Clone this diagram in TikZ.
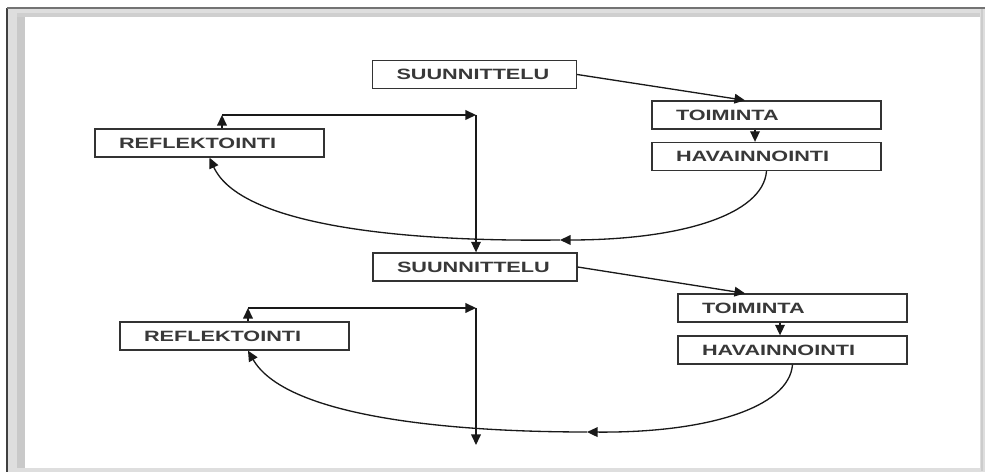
\documentclass[tikz,border=0pt]{standalone}
\usepackage{fontspec}
\usetikzlibrary{arrows.meta}
\newfontfamily\diagfont{Liberation Sans}[FakeStretch=1.45]
\newcommand\mylbl[2]{\makebox[#1][l]{#2}}
\begin{document}
\begin{tikzpicture}[x=0.02cm,y=-0.02cm,
  conn/.style={line width=0.75pt, draw=black!90},
  arr/.style={conn, -{Triangle[length=6pt,width=5.5pt]}},
  box/.style={draw=black!80, line width=0.75pt, fill=white, inner xsep=0.48cm, inner ysep=0pt,
    minimum height=0.56cm, font=\diagfont\bfseries\fontsize{8.5}{10}\selectfont, text=black!78}]
\useasboundingbox (0,0) rectangle (987,475);
% window frame
\fill[white] (0,0) rectangle (987,475);
\fill[black!13] (7,8) rectangle (985,472);
\fill[black!21] (17,13) rectangle (25,468);
\fill[black!19] (17,13) rectangle (980,17);
\fill[white] (25,17) rectangle (980,468);
\draw[black!20, line width=0.6pt] (982,9) -- (982,471);
\draw[black!75, line width=0.7pt] (7,472) -- (7,8);
\draw[black!55, line width=0.7pt] (7,8) -- (985,8);

% first cycle
\node[box] (S1) at (474.5,74.5) {\mylbl{3.12cm}{SUUNNITTELU}};
\node[box] (T1) at (766.5,115) {\mylbl{3.62cm}{TOIMINTA}};
\node[box] (H1) at (766.5,156.5) {\mylbl{3.62cm}{HAVAINNOINTI}};
\node[box] (R1) at (209.5,143) {\mylbl{3.62cm}{REFLEKTOINTI}};
% second cycle
\node[box] (S2) at (475,267) {\mylbl{3.12cm}{SUUNNITTELU}};
\node[box] (T2) at (792.5,308) {\mylbl{3.62cm}{TOIMINTA}};
\node[box] (H2) at (792.5,350) {\mylbl{3.62cm}{HAVAINNOINTI}};
\node[box] (R2) at (234.5,336) {\mylbl{3.62cm}{REFLEKTOINTI}};

\coordinate (c1) at (222,115);
\coordinate (d1) at (476,115);
\coordinate (m1) at (560,240);
\coordinate (c2) at (248,308);
\coordinate (d2) at (476,308);
\coordinate (e2) at (476,445);
\coordinate (m2) at (587,432);

% connectors, cycle 1
\draw[arr] (S1.east) -- ([xshift=-0.43cm]T1.north);
\draw[arr] ([xshift=-0.23cm]T1.south) -- ([xshift=-0.23cm]H1.north);
\draw[arr] (H1.south) .. controls (763,215) and (680,240) .. (m1);
\draw[arr] (m1) .. controls (400,242) and (240,225) .. (R1.south);
\draw[arr] (c1 |- R1.north) -- (c1);
\draw[arr] (c1) -- (d1);
\draw[arr] (d1) -- (d1 |- S2.north);

% connectors, cycle 2
\draw[arr] (S2.east) -- ([xshift=-0.95cm]T2.north);
\draw[arr] ([xshift=-0.25cm]T2.south) -- ([xshift=-0.25cm]H2.north);
\draw[arr] (H2.south) .. controls (789,408) and (706,433) .. (m2);
\draw[arr] (m2) .. controls (440,432) and (285,415) .. (c2 |- R2.south);
\draw[arr] (c2 |- R2.north) -- (c2);
\draw[arr] (c2) -- (d2);
\draw[arr] (d2) -- (e2);
\end{tikzpicture}
\end{document}
